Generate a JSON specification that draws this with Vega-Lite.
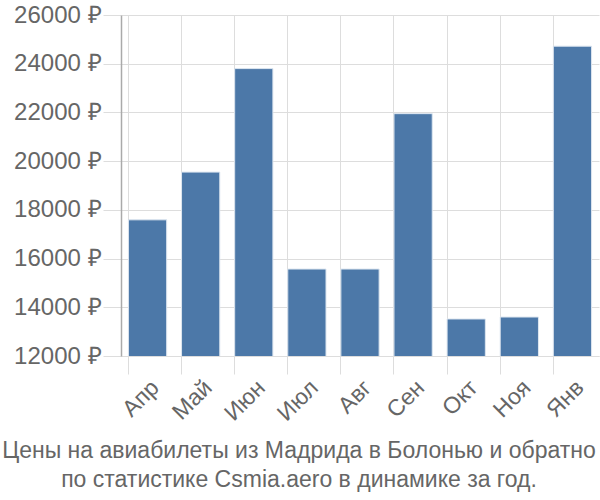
{
  "$schema": "https://vega.github.io/schema/vega-lite/v6.json",
  "autosize": {"type": "none"},
  "width": 478,
  "height": 341,
  "padding": {"left": 121, "top": 15, "right": 1, "bottom": 144},
  "background": "white",
  "title": {
    "text": ["Цены на авиабилеты из Мадрида в Болонью и обратно", "по статистике Csmia.aero в динамике за год."],
    "orient": "bottom",
    "anchor": "middle",
    "dx": -61,
    "offset": 15,
    "fontSize": 23,
    "font": "Liberation Sans",
    "fontWeight": "normal",
    "color": "#666666",
    "lineHeight": 29
  },
  "data": {
    "values": [
      {"month": "Апр", "price": 17590},
      {"month": "Май", "price": 19550},
      {"month": "Июн", "price": 23800},
      {"month": "Июл", "price": 15570},
      {"month": "Авг", "price": 15570},
      {"month": "Сен", "price": 21950},
      {"month": "Окт", "price": 13520},
      {"month": "Ноя", "price": 13600},
      {"month": "Янв", "price": 24720}
    ]
  },
  "mark": {"type": "bar", "color": "#4c78a8", "stroke": "#dde6f0", "strokeWidth": 1, "clip": true},
  "encoding": {
    "x": {
      "field": "month",
      "type": "nominal",
      "sort": null,
      "title": null,
      "scale": {"paddingInner": 0.28, "paddingOuter": 0.14},
      "axis": {
        "bandPosition": 0,
        "labelAngle": -45,
        "labelFontSize": 23,
        "labelFont": "Liberation Sans",
        "labelColor": "#666666",
        "labelPadding": 2,
        "grid": true,
        "gridColor": "#dddddd",
        "tickColor": "#dddddd",
        "tickSize": 18,
        "domainColor": "#dddddd",
        "domainWidth": 1
      }
    },
    "y": {
      "field": "price",
      "type": "quantitative",
      "title": null,
      "scale": {"domain": [12000, 26000], "nice": false, "zero": false},
      "axis": {
        "values": [12000, 14000, 16000, 18000, 20000, 22000, 24000, 26000],
        "labelExpr": "datum.value + ' ₽'",
        "labelFontSize": 24,
        "labelFont": "Liberation Sans",
        "labelColor": "#666666",
        "labelPadding": 2,
        "grid": true,
        "gridColor": "#dddddd",
        "tickColor": "#dddddd",
        "tickSize": 18,
        "domainColor": "#aaaaaa",
        "domainWidth": 1.5
      }
    }
  },
  "config": {"view": {"stroke": null}}
}
